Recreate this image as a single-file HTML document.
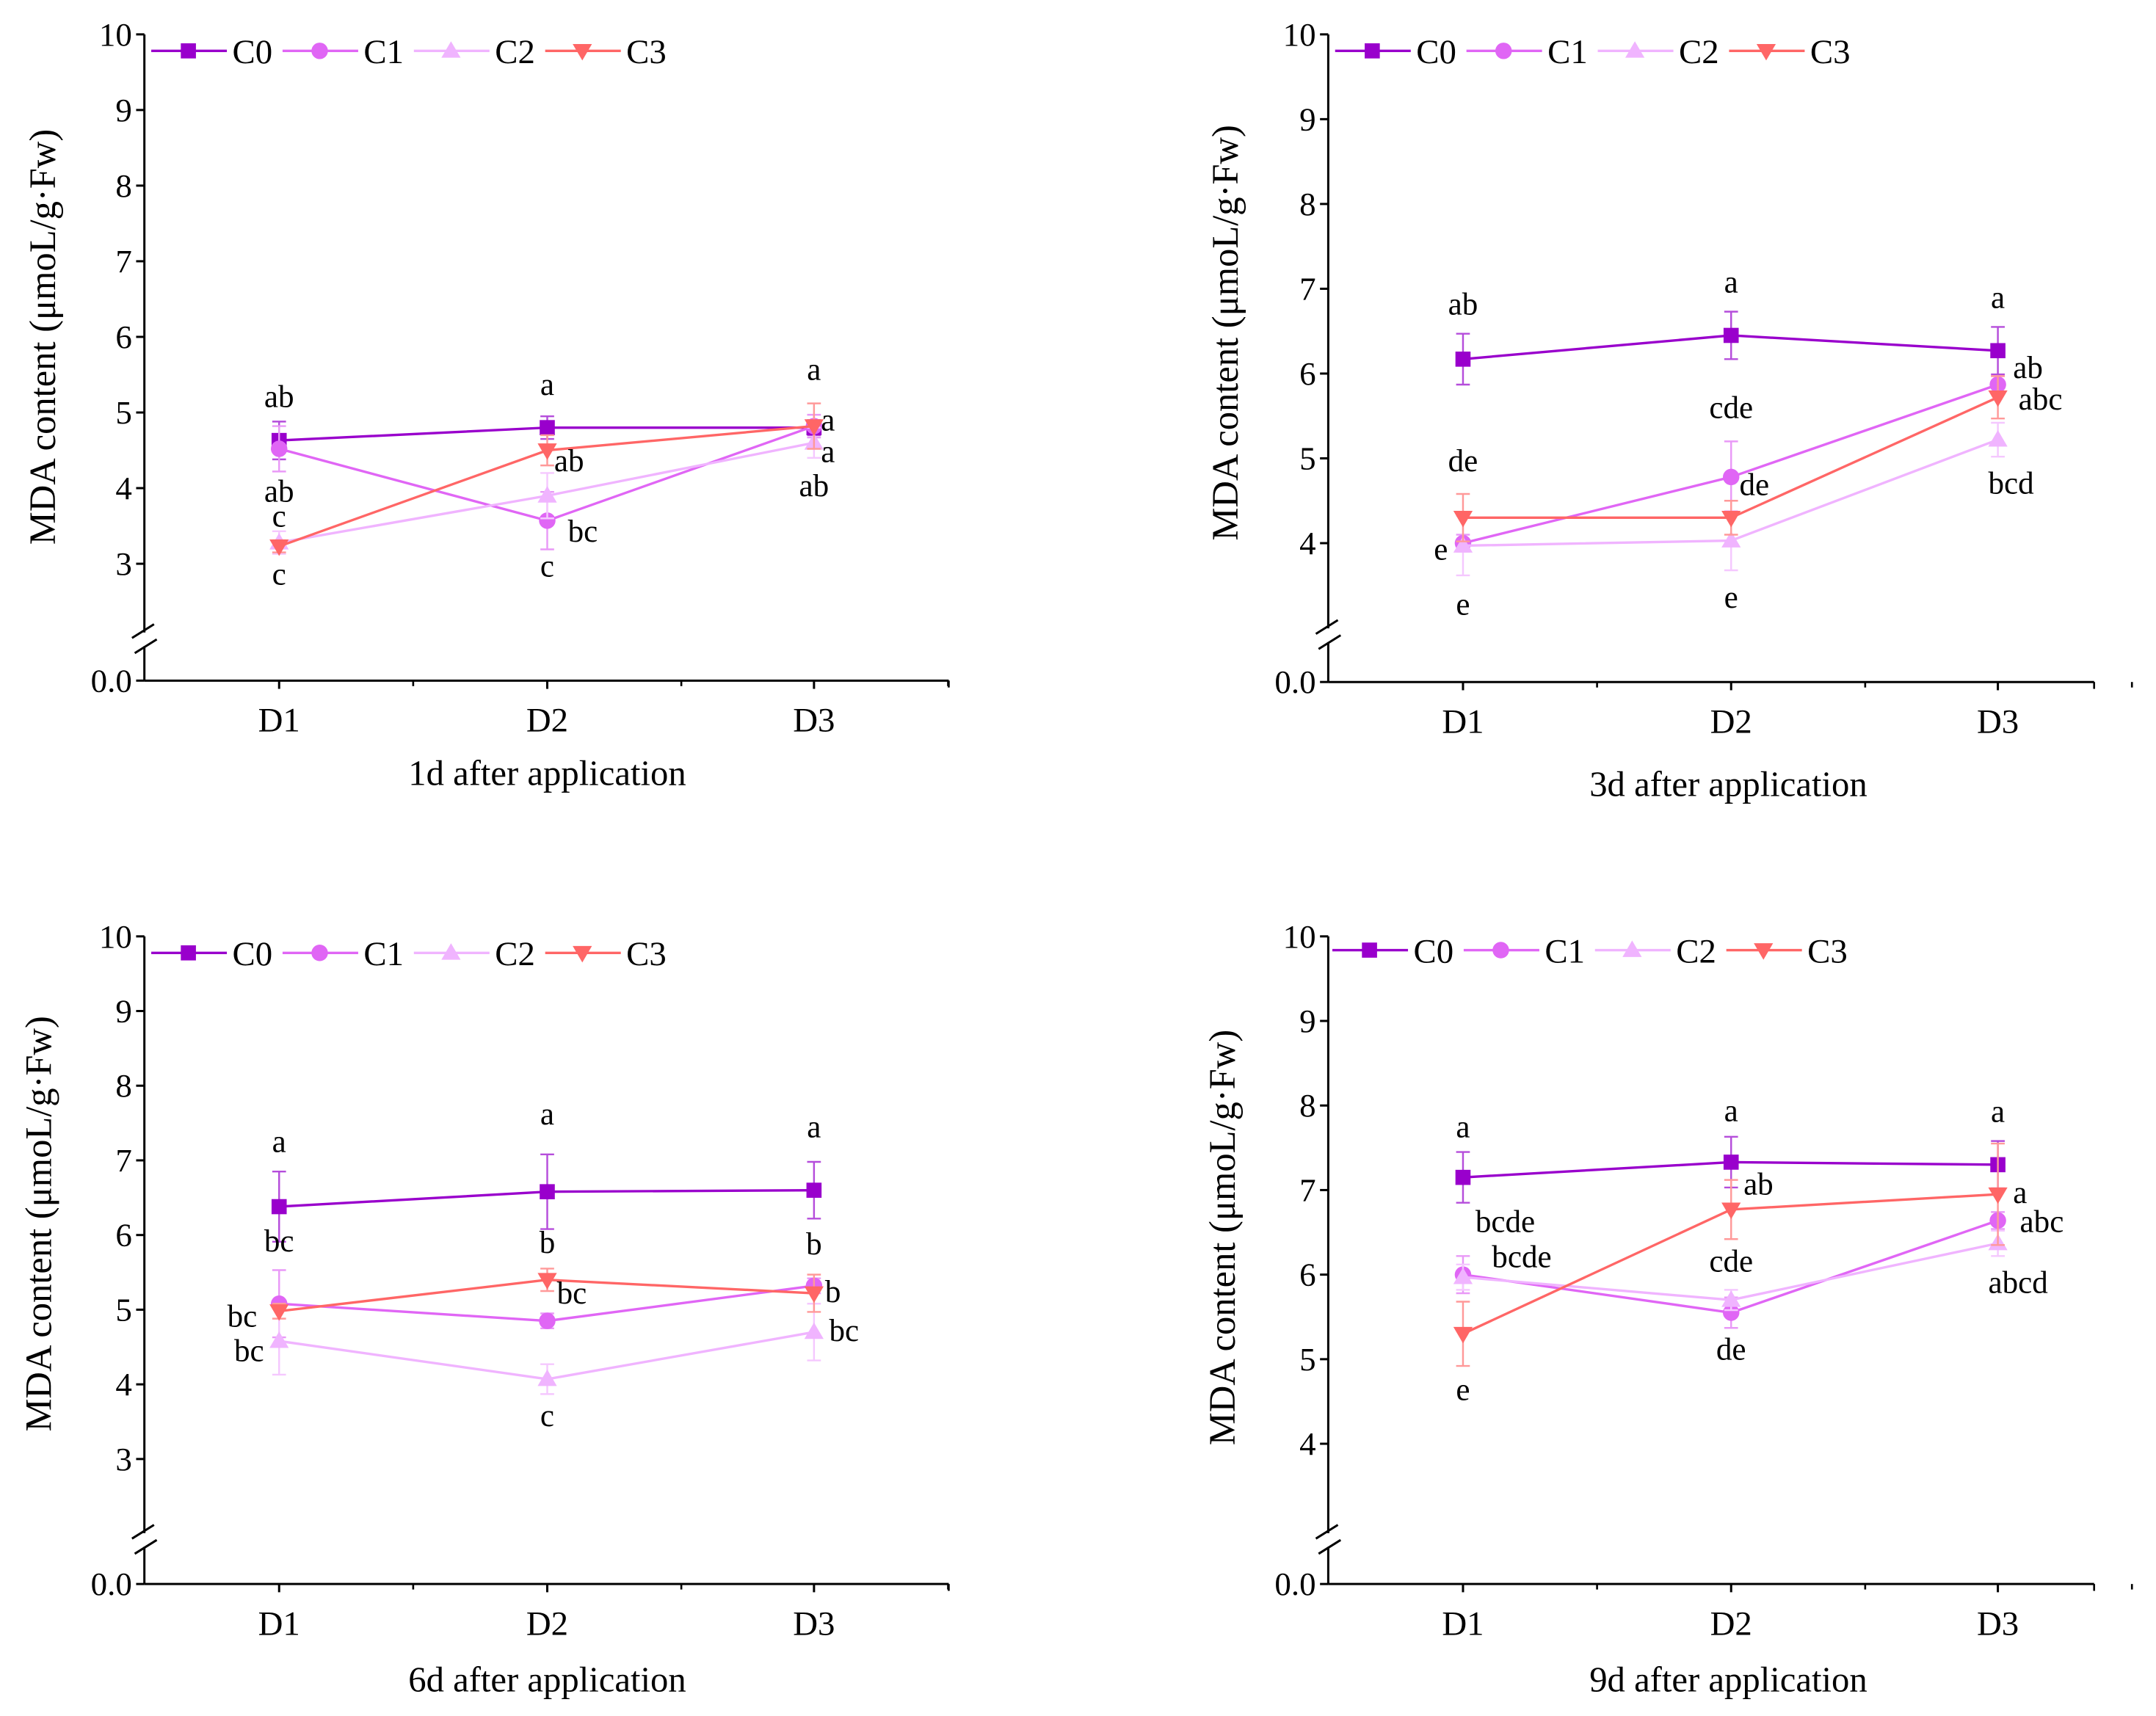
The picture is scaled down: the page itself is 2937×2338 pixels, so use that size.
<!DOCTYPE html>
<html><head><meta charset="utf-8"><style>
html,body{margin:0;padding:0;background:#fff}
svg{display:block;font-family:"Liberation Serif","DejaVu Serif",serif}
svg text{font-family:"Liberation Serif","DejaVu Serif",serif;fill:#000}
</style></head><body>
<svg id="chart" width="2937" height="2338" viewBox="0 0 1568 1248" preserveAspectRatio="none" xmlns="http://www.w3.org/2000/svg"></svg>
<script>
const categories = ["D1","D2","D3"];
const seriesNames = ["C0","C1","C2","C3"];
const p1C0=[4.63,4.8,4.8], p1C1=[4.52,3.57,4.82], p1C2=[3.28,3.9,4.6], p1C3=[3.23,4.5,4.82];
const p1E0=[0.25,0.15,0.1], p1E1=[0.3,0.38,0.15], p1E2=[0.15,0.3,0.2], p1E3=[0.08,0.2,0.3];
const p2C0=[6.17,6.45,6.27], p2C1=[4.0,4.78,5.87], p2C2=[3.97,4.03,5.22], p2C3=[4.3,4.3,5.72];
const p2E0=[0.3,0.28,0.28], p2E1=[0.1,0.42,0.1], p2E2=[0.35,0.35,0.2], p2E3=[0.28,0.2,0.25];
const p3C0=[6.38,6.58,6.6], p3C1=[5.08,4.85,5.32], p3C2=[4.58,4.07,4.7], p3C3=[4.98,5.4,5.22];
const p3E0=[0.47,0.5,0.38], p3E1=[0.45,0.1,0.1], p3E2=[0.45,0.2,0.38], p3E3=[0.1,0.15,0.25];
const p4C0=[7.15,7.33,7.3], p4C1=[6.0,5.55,6.64], p4C2=[5.97,5.7,6.37], p4C3=[5.3,6.77,6.95];
const p4E0=[0.3,0.3,0.28], p4E1=[0.22,0.18,0.1], p4E2=[0.15,0.12,0.15], p4E3=[0.38,0.35,0.6];
const p1Ticks=[3,4,5,6,7,8,9,10], p2Ticks=[4,5,6,7,8,9,10], p3Ticks=[3,4,5,6,7,8,9,10], p4Ticks=[4,5,6,7,8,9,10];
const p1Titles="1d after application", p2Title="3d after application", p3Title="6d after application", p4Title="9d after application";
// letters: [category index, value, text, dx]
const p1Letters=[[0,5.20,"ab",0],[0,3.95,"ab",0],[0,3.62,"c",0],[0,2.85,"c",0],[1,5.36,"a",0],[1,4.35,"ab",14],[1,3.42,"bc",24],[1,2.96,"c",0],[2,5.56,"a",0],[2,4.89,"a",14],[2,4.47,"a",14],[2,4.02,"ab",0]];
const p2Letters=[[0,6.81,"ab",0],[0,4.96,"de",0],[0,3.92,"e",-22],[0,3.27,"e",0],[1,7.07,"a",0],[1,5.59,"cde",0],[1,4.68,"de",15],[1,3.35,"e",0],[2,6.89,"a",0],[2,6.06,"ab",20],[2,5.69,"abc",24],[2,4.70,"bcd",2]];
const p3Letters=[[0,7.24,"a",0],[0,5.91,"bc",0],[0,4.90,"bc",-27],[0,4.44,"bc",-22],[1,7.61,"a",0],[1,5.89,"b",0],[1,5.21,"bc",16],[1,3.57,"c",0],[2,7.44,"a",0],[2,5.87,"b",0],[2,5.23,"b",17],[2,4.71,"bc",20]];
const p4Letters=[[0,7.74,"a",0],[0,6.62,"bcde",18],[0,6.20,"bcde",30],[0,4.63,"e",0],[1,7.93,"a",0],[1,7.06,"ab",18],[1,6.15,"cde",0],[1,5.11,"de",0],[2,7.92,"a",0],[2,6.96,"a",20],[2,6.62,"abc",25],[2,5.90,"abcd",2]];

const colors=["#9900cc","#e066f5","#f0b4ff","#ff6666"];
const errColors=["#b54ddb","#e999f7","#f5c8ff","#ff9999"];
const NS="http://www.w3.org/2000/svg";
const svg=document.getElementById("chart");
function mk(tag,attrs,parent){const e=document.createElementNS(NS,tag);for(const k in attrs)e.setAttribute(k,attrs[k]);(parent||svg).appendChild(e);return e;}

function marker(g,i,x,y){
  const c=colors[i];let m;
  if(i===0)m=mk("rect",{x:x-5.5,y:y-5.5,width:11,height:11,fill:c},g);
  else if(i===1)m=mk("circle",{cx:x,cy:y,r:6,fill:c},g);
  else if(i===2)m=mk("polygon",{points:`${x},${y-7} ${x-7},${y+5} ${x+7},${y+5}`,fill:c},g);
  else m=mk("polygon",{points:`${x},${y+7} ${x-7},${y-5} ${x+7},${y-5}`,fill:c},g);
  return m;
}

function panel(id,cfg){
  const g=mk("g",{});
  
  
  const ax=cfg.ax, xEnd=cfg.xEnd, y10=cfg.y10, unit=cfg.unit, y0=cfg.y0, brk=cfg.brk;
  const yS=v=>y10+(10-v)*unit;
  const xS=i=>cfg.dx[i];
  const axes=mk("g",{stroke:"#000","stroke-width":1.6,fill:"none"},g);
  
  
  mk("line",{x1:ax,y1:y10,x2:ax,y2:brk-5},axes);
  mk("line",{x1:ax,y1:brk+5,x2:ax,y2:y0},axes);
  mk("line",{x1:ax-9,y1:brk-1,x2:ax+7,y2:brk-11},axes);
  mk("line",{x1:ax-7,y1:brk+10,x2:ax+9,y2:brk},axes);
  mk("line",{x1:ax,y1:y0,x2:xEnd,y2:y0},axes);
  mk("line",{x1:ax-6,y1:y0,x2:ax,y2:y0},axes);
  const tl=mk("text",{x:ax-9,y:y0+8,"text-anchor":"end","font-size":24},g);tl.textContent="0.0";
  
  
  cfg.ticks.forEach(t=>{
    mk("line",{x1:ax-6,y1:yS(t),x2:ax,y2:yS(t),stroke:"#000","stroke-width":1.6},g);
    const tx=mk("text",{x:ax-9,y:yS(t)+8,"text-anchor":"end","font-size":24},g);
    tx.textContent=String(t);
    
    
  });
  const step=cfg.dx[1]-cfg.dx[0];
  categories.forEach((c,i)=>{
    mk("line",{x1:xS(i),y1:y0,x2:xS(i),y2:y0+6,stroke:"#000","stroke-width":1.6},g);
    mk("line",{x1:xS(i)+step/2,y1:y0,x2:xS(i)+step/2,y2:y0+4,stroke:"#000","stroke-width":1.4},g);
    const tx=mk("text",{x:xS(i),y:y0+37,"text-anchor":"middle","font-size":25},g);
    tx.textContent=c;
    
    
  });
  mk("line",{x1:xEnd,y1:y0,x2:xEnd,y2:y0+5,stroke:"#000","stroke-width":1.4},g);
  const xt=mk("text",{x:cfg.titleX,y:cfg.titleY,"text-anchor":"middle","font-size":26},g);
  xt.textContent=cfg.title;
  
  
  const yt=mk("text",{x:0,y:0,"text-anchor":"middle","font-size":27,transform:`translate(${cfg.ytx},${cfg.yty}) rotate(-90)`},g);
  yt.textContent="MDA content (μmoL/g·Fw)";
  
  
  cfg.series.forEach((vals,si)=>{
    const sg=mk("g",{},g);
    
    
    vals.forEach((v,i)=>{
      const e=cfg.errs[si][i], x=xS(i);
      const eg=mk("g",{stroke:errColors[si],"stroke-width":1.3},sg);
      
      
      mk("line",{x1:x,y1:yS(v+e),x2:x,y2:yS(v-e)},eg);
      mk("line",{x1:x-5,y1:yS(v+e),x2:x+5,y2:yS(v+e)},eg);
      mk("line",{x1:x-5,y1:yS(v-e),x2:x+5,y2:yS(v-e)},eg);
    });
    const pts=vals.map((v,i)=>xS(i)+","+yS(v)).join(" ");
    const pl=mk("polyline",{points:pts,fill:"none",stroke:colors[si],"stroke-width":1.8},sg);
    
    
    vals.forEach((v,i)=>{
      const m=marker(sg,si,xS(i),yS(v));
      
      
    });
  });
  cfg.letters.forEach(L=>{
    const t=mk("text",{x:xS(L[0])+L[3],y:yS(L[1])+7,"text-anchor":L[3]>0?"start":(L[3]<0?"end":"middle"),"font-size":23},g);
    if(L[3]>0)t.setAttribute("x",xS(L[0])+L[3]-9);
    if(L[3]<0)t.setAttribute("x",xS(L[0])+L[3]+11);
    t.textContent=L[2];
    
    
  });
  const lg=mk("g",{},g);
  
  
  seriesNames.forEach((n,i)=>{
    const lx=cfg.legX+i*95.5, ly=cfg.legY;
    const eg=mk("g",{},lg);
    
    
    mk("line",{x1:lx,y1:ly,x2:lx+55,y2:ly,stroke:colors[i],"stroke-width":1.8},eg);
    marker(eg,i,lx+27,ly);
    const t=mk("text",{x:lx+59,y:ly+9,"font-size":25},eg);t.textContent=n;
  });
}

const dxL=[203,398,592], dxR=[1064,1259,1453];
panel("panel-1d",{ax:105,xEnd:690,y10:25,unit:55,y0:495,brk:465,dx:dxL,ticks:p1Ticks,title:p1Titles,titleX:398,titleY:571,ytx:40,yty:245,
  series:[p1C0,p1C1,p1C2,p1C3],errs:[p1E0,p1E1,p1E2,p1E3],letters:p1Letters,legX:110,legY:37});
panel("panel-3d",{ax:966,xEnd:1523,y10:25,unit:61.67,y0:496,brk:462,dx:dxR,ticks:p2Ticks,title:p2Title,titleX:1257,titleY:579,ytx:900,yty:242,
  series:[p2C0,p2C1,p2C2,p2C3],errs:[p2E0,p2E1,p2E2,p2E3],letters:p2Letters,legX:971,legY:37});
panel("panel-6d",{ax:105,xEnd:690,y10:681,unit:54.3,y0:1152,brk:1120,dx:dxL,ticks:p3Ticks,title:p3Title,titleX:398,titleY:1230,ytx:37,yty:890,
  series:[p3C0,p3C1,p3C2,p3C3],errs:[p3E0,p3E1,p3E2,p3E3],letters:p3Letters,legX:110,legY:693});
panel("panel-9d",{ax:966,xEnd:1523,y10:681,unit:61.5,y0:1152,brk:1120,dx:dxR,ticks:p4Ticks,title:p4Title,titleX:1257,titleY:1230,ytx:898,yty:900,
  series:[p4C0,p4C1,p4C2,p4C3],errs:[p4E0,p4E1,p4E2,p4E3],letters:p4Letters,legX:969,legY:691});
</script>
</body></html>
